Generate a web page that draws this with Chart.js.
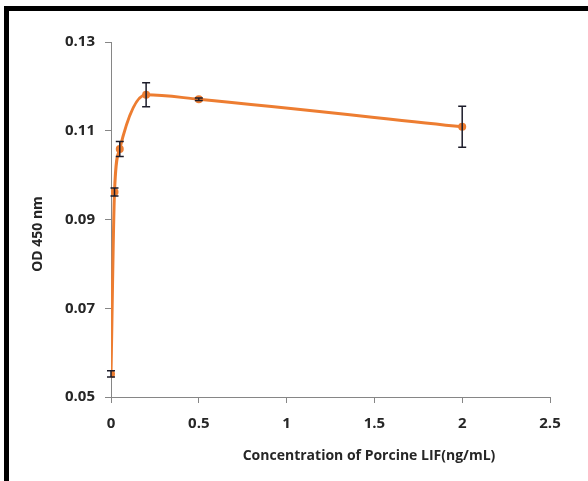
<!DOCTYPE html>
<html>
<head>
<meta charset="utf-8">
<script src="https://cdn.jsdelivr.net/npm/chart.js@4"></script>
<style>
  body { margin: 0; background: #fff; }
  #wrap { position: relative; width: 588px; height: 481px; overflow: hidden; }
  #frame {
    position: absolute; left: 4px; top: 6px; right: -10px; bottom: -10px;
    border-top: 5px solid #000; border-left: 5px solid #000;
    pointer-events: none;
  }
</style>
</head>
<body>
<div id="wrap">
  <canvas id="chart" width="588" height="481"></canvas>
  <div id="frame"></div>
</div>
<script>
// === DATA ===
const concentrations = [0, 0.02, 0.05, 0.2, 0.5, 2]; // ng/mL
const odValues = [0.0552, 0.0962, 0.1059, 0.1181, 0.1171, 0.1109];
const odErrors = [0.0007, 0.0009, 0.0017, 0.0027, 0.0003, 0.0046];
const xTicks = [0, 0.5, 1, 1.5, 2, 2.5];
const yTicks = [0.05, 0.07, 0.09, 0.11, 0.13];

const xTitle = "Concentration of Porcine LIF(ng/mL)";
const yTitle = "OD 450 nm";

const orange = "#ED7D31";
const axisGrey = "#868686";
const labelColor = "#262626";
const fontFamily = "'Open Sans', sans-serif";

// error bars drawn through the chart's own scales
const errorBars = {
  id: "errorBars",
  afterDatasetsDraw(chart) {
    const { ctx, scales: { x, y } } = chart;
    ctx.save();
    ctx.strokeStyle = "#1c1c2a";
    ctx.lineWidth = 1.5;
    concentrations.forEach((c, i) => {
      const px = x.getPixelForValue(c);
      const top = y.getPixelForValue(odValues[i] + odErrors[i]);
      const bot = y.getPixelForValue(odValues[i] - odErrors[i]);
      ctx.beginPath();
      ctx.moveTo(px, top); ctx.lineTo(px, bot);
      ctx.moveTo(px - 4, top); ctx.lineTo(px + 4, top);
      ctx.moveTo(px - 4, bot); ctx.lineTo(px + 4, bot);
      ctx.stroke();
    });
    ctx.restore();
  },
};

// axis titles placed like the original figure
const axisTitles = {
  id: "axisTitles",
  afterDraw(chart) {
    const ctx = chart.ctx;
    ctx.save();
    ctx.fillStyle = labelColor;
    ctx.font = "700 14px " + fontFamily;
    ctx.textAlign = "center";
    ctx.textBaseline = "middle";
    ctx.fillText(xTitle, 369, 456);
    ctx.translate(38, 234);
    ctx.rotate(-Math.PI / 2);
    ctx.fillText(yTitle, 0, 0);
    ctx.restore();
  },
};

new Chart(document.getElementById("chart"), {
  type: "line",
  data: {
    datasets: [
      {
        data: concentrations.map((c, i) => ({ x: c, y: odValues[i] })),
        borderColor: orange,
        backgroundColor: orange,
        borderWidth: 3,
        pointRadius: 4,
        pointBorderWidth: 0,
        cubicInterpolationMode: "monotone",
        fill: false,
      },
    ],
  },
  options: {
    responsive: false,
    animation: false,
    devicePixelRatio: 1,
    layout: { padding: { top: 42, right: 38, left: 0, bottom: 0 } },
    plugins: { legend: { display: false }, tooltip: { enabled: false } },
    scales: {
      x: {
        type: "linear",
        min: 0,
        max: 2.5,
        afterFit: (s) => { s.height = 84; },
        afterBuildTicks: (s) => { s.ticks = xTicks.map((v) => ({ value: v })); },
        grid: { drawOnChartArea: false, color: axisGrey, tickLength: 6 },
        border: { color: axisGrey, width: 1 },
        ticks: {
          padding: 12,
          color: labelColor,
          font: { family: fontFamily, size: 15, weight: 700 },
          callback: (v) => String(v),
        },
      },
      y: {
        min: 0.05,
        max: 0.13,
        afterFit: (s) => { s.width = 111; },
        afterBuildTicks: (s) => { s.ticks = yTicks.map((v) => ({ value: v })); },
        grid: { drawOnChartArea: false, color: axisGrey, tickLength: 6 },
        border: { color: axisGrey, width: 1 },
        ticks: {
          padding: 10,
          color: labelColor,
          font: { family: fontFamily, size: 15, weight: 700 },
          callback: (v) => v.toFixed(2),
        },
      },
    },
  },
  plugins: [errorBars, axisTitles],
});
</script>
</body>
</html>
